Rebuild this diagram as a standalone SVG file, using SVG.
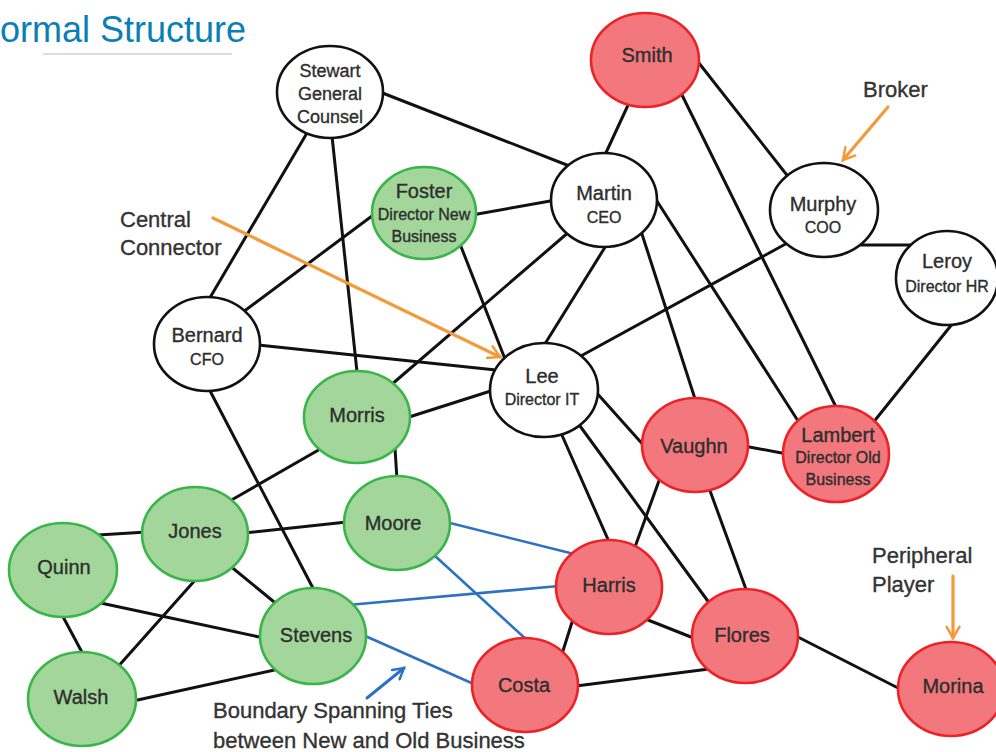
<svg xmlns="http://www.w3.org/2000/svg" width="996" height="752" viewBox="0 0 996 752">
<defs>
<style>
.e{stroke:#111;stroke-width:3;stroke-linecap:round;fill:none}
.b{stroke:#2d72c2;stroke-width:2.6;stroke-linecap:round;fill:none}
.w{fill:#fff;stroke:#111;stroke-width:2.6}
.g{fill:#a3d69a;stroke:#39b54a;stroke-width:2.6}
.r{fill:#f2787d;stroke:#ec2227;stroke-width:2.6}
.t{font-family:"Liberation Sans",Arial,sans-serif;fill:#2e2e2e;stroke:#2e2e2e;stroke-width:0.35;text-anchor:middle}
.n{font-size:20px}
.s{font-size:16px}
.m{font-size:18px}
.lab{font-family:"Liberation Sans",Arial,sans-serif;fill:#333;stroke:#333;stroke-width:0.35;font-size:22px}
.oa{stroke:#f39a3c;stroke-width:3.2;fill:none;stroke-linecap:round}
.ba{stroke:#2d72c2;stroke-width:3;fill:none;stroke-linecap:round}
</style>
<marker id="ao" viewBox="0 0 10 10" refX="8" refY="5" markerWidth="5" markerHeight="5" orient="auto" markerUnits="strokeWidth">
<path d="M1,1 L8,5 L1,9" fill="none" stroke="#f39a3c" stroke-width="1.6" stroke-linecap="round"/>
</marker>
<marker id="ab" viewBox="0 0 10 10" refX="8" refY="5" markerWidth="5" markerHeight="5" orient="auto" markerUnits="strokeWidth">
<path d="M1,1 L8,5 L1,9" fill="none" stroke="#2d72c2" stroke-width="1.6" stroke-linecap="round"/>
</marker>
</defs>
<rect width="996" height="752" fill="#fff"/>
<g id="title">
<text x="0" y="42" font-family="'Liberation Sans',Arial,sans-serif" font-size="36" fill="#0a7fb5">ormal Structure</text>
<line x1="43" y1="54" x2="232" y2="54" stroke="#d0d0d0" stroke-width="1.5"/>
</g>
<g id="connectors">
<line class="e" x1="380" y1="92" x2="572" y2="167"/>
<line class="e" x1="307" y1="133" x2="208" y2="301"/>
<line class="e" x1="332" y1="136" x2="357" y2="372"/>
<line class="e" x1="472" y1="215" x2="556" y2="200"/>
<line class="e" x1="376" y1="213" x2="243" y2="312"/>
<line class="e" x1="460" y1="244" x2="505" y2="359"/>
<line class="e" x1="258" y1="345" x2="496" y2="370"/>
<line class="e" x1="208" y1="387" x2="315" y2="592"/>
<line class="e" x1="629" y1="103" x2="604" y2="157"/>
<line class="e" x1="570" y1="231" x2="391" y2="385"/>
<line class="e" x1="607" y1="244" x2="543" y2="347"/>
<line class="e" x1="641" y1="231" x2="696" y2="402"/>
<line class="e" x1="655" y1="198" x2="800" y2="424"/>
<line class="e" x1="681" y1="93" x2="837" y2="409"/>
<line class="e" x1="695" y1="58" x2="790" y2="179"/>
<line class="e" x1="860" y1="245" x2="916" y2="245"/>
<line class="e" x1="791" y1="241" x2="579" y2="357"/>
<line class="e" x1="953" y1="323" x2="872" y2="424"/>
<line class="e" x1="406" y1="418" x2="497" y2="389"/>
<line class="e" x1="561" y1="433" x2="610" y2="544"/>
<line class="e" x1="580" y1="426" x2="710" y2="604"/>
<line class="e" x1="595" y1="391" x2="646" y2="448"/>
<line class="e" x1="744" y1="446" x2="787" y2="454"/>
<line class="e" x1="660" y1="478" x2="635" y2="547"/>
<line class="e" x1="709" y1="488" x2="747" y2="592"/>
<line class="e" x1="643" y1="618" x2="696" y2="639"/>
<line class="e" x1="573" y1="619" x2="562" y2="654"/>
<line class="e" x1="576" y1="686" x2="709" y2="669"/>
<line class="e" x1="794" y1="635" x2="902" y2="690"/>
<line class="e" x1="395" y1="448" x2="397" y2="480"/>
<line class="e" x1="322" y1="448" x2="228" y2="502"/>
<line class="e" x1="244" y1="533" x2="347" y2="522"/>
<line class="e" x1="98" y1="535" x2="147" y2="532"/>
<line class="e" x1="229" y1="565" x2="279" y2="606"/>
<line class="e" x1="197" y1="578" x2="115" y2="670"/>
<line class="e" x1="96" y1="602" x2="264" y2="638"/>
<line class="e" x1="61" y1="613" x2="84" y2="656"/>
<line class="e" x1="133" y1="701" x2="279" y2="669"/>
<line class="b" x1="446" y1="522" x2="574" y2="554"/>
<line class="b" x1="434" y1="555" x2="528" y2="641"/>
<line class="b" x1="348" y1="605" x2="559" y2="586"/>
<line class="b" x1="363" y1="635" x2="476" y2="685"/>
</g>
<g id="Stewart"><ellipse class="w" cx="330" cy="92" rx="53" ry="46"/>
<text class="t m" x="330" y="77">Stewart</text><text class="t m" x="330" y="100">General</text><text class="t m" x="330" y="123">Counsel</text></g>
<g id="Foster"><ellipse class="g" cx="424" cy="213" rx="52" ry="46"/>
<text class="t n" x="424" y="198">Foster</text><text class="t s" x="424" y="220">Director New</text><text class="t s" x="424" y="242">Business</text></g>
<g id="Bernard"><ellipse class="w" cx="207" cy="344" rx="53" ry="47"/>
<text class="t n" x="207" y="342">Bernard</text><text class="t s" x="207" y="365">CFO</text></g>
<g id="Smith"><ellipse class="r" cx="645" cy="60" rx="54" ry="47"/>
<text class="t n" x="647" y="62">Smith</text></g>
<g id="Martin"><ellipse class="w" cx="604" cy="200" rx="53" ry="47"/>
<text class="t n" x="604" y="200">Martin</text><text class="t s" x="604" y="223">CEO</text></g>
<g id="Murphy"><ellipse class="w" cx="824" cy="210" rx="54" ry="47"/>
<text class="t n" x="823" y="211">Murphy</text><text class="t s" x="823" y="233">COO</text></g>
<g id="Leroy"><ellipse class="w" cx="947" cy="278" rx="51" ry="47"/>
<text class="t n" x="947" y="268">Leroy</text><text class="t s" x="947" y="292">Director HR</text></g>
<g id="Lee"><ellipse class="w" cx="544" cy="390" rx="54" ry="47"/>
<text class="t n" x="542" y="383">Lee</text><text class="t s" x="542" y="405">Director IT</text></g>
<g id="Morris"><ellipse class="g" cx="357" cy="417" rx="53" ry="46"/>
<text class="t n" x="357" y="422">Morris</text></g>
<g id="Moore"><ellipse class="g" cx="397" cy="523" rx="53" ry="47"/>
<text class="t n" x="393" y="530">Moore</text></g>
<g id="Jones"><ellipse class="g" cx="195" cy="534" rx="53" ry="47"/>
<text class="t n" x="195" y="538">Jones</text></g>
<g id="Quinn"><ellipse class="g" cx="63" cy="570" rx="54" ry="47"/>
<text class="t n" x="64" y="574">Quinn</text></g>
<g id="Stevens"><ellipse class="g" cx="313" cy="636" rx="53" ry="48"/>
<text class="t n" x="316" y="642">Stevens</text></g>
<g id="Walsh"><ellipse class="g" cx="82" cy="699" rx="54" ry="47"/>
<text class="t n" x="81" y="704">Walsh</text></g>
<g id="Vaughn"><ellipse class="r" cx="695" cy="445" rx="53" ry="47"/>
<text class="t n" x="694" y="453">Vaughn</text></g>
<g id="Lambert"><ellipse class="r" cx="836" cy="454" rx="53" ry="48"/>
<text class="t n" x="838" y="442">Lambert</text><text class="t s" x="838" y="463">Director Old</text><text class="t s" x="838" y="485">Business</text></g>
<g id="Harris"><ellipse class="r" cx="609" cy="587" rx="53" ry="47"/>
<text class="t n" x="609" y="592">Harris</text></g>
<g id="Flores"><ellipse class="r" cx="745" cy="636" rx="53" ry="47"/>
<text class="t n" x="742" y="642">Flores</text></g>
<g id="Costa"><ellipse class="r" cx="525" cy="685" rx="53" ry="47"/>
<text class="t n" x="524" y="692">Costa</text></g>
<g id="Morina"><ellipse class="r" cx="951" cy="689" rx="53" ry="47"/>
<text class="t n" x="953" y="693">Morina</text></g>
<g id="annotations">
<text class="lab" x="120" y="227">Central</text>
<text class="lab" x="120" y="255">Connector</text>
<line class="oa" x1="213" y1="218" x2="500" y2="357" marker-end="url(#ao)"/>
<text class="lab" x="863" y="97">Broker</text>
<line class="oa" x1="888" y1="107" x2="843" y2="160" marker-end="url(#ao)"/>
<text class="lab" x="872" y="563">Peripheral</text>
<text class="lab" x="872" y="592">Player</text>
<line class="oa" x1="953" y1="576" x2="953" y2="638" marker-end="url(#ao)"/>
<line class="ba" x1="367" y1="698" x2="404" y2="668" marker-end="url(#ab)"/>
<text class="lab" x="213" y="718">Boundary Spanning Ties</text>
<text class="lab" x="213" y="748">between New and Old Business</text>
</g>
</svg>
